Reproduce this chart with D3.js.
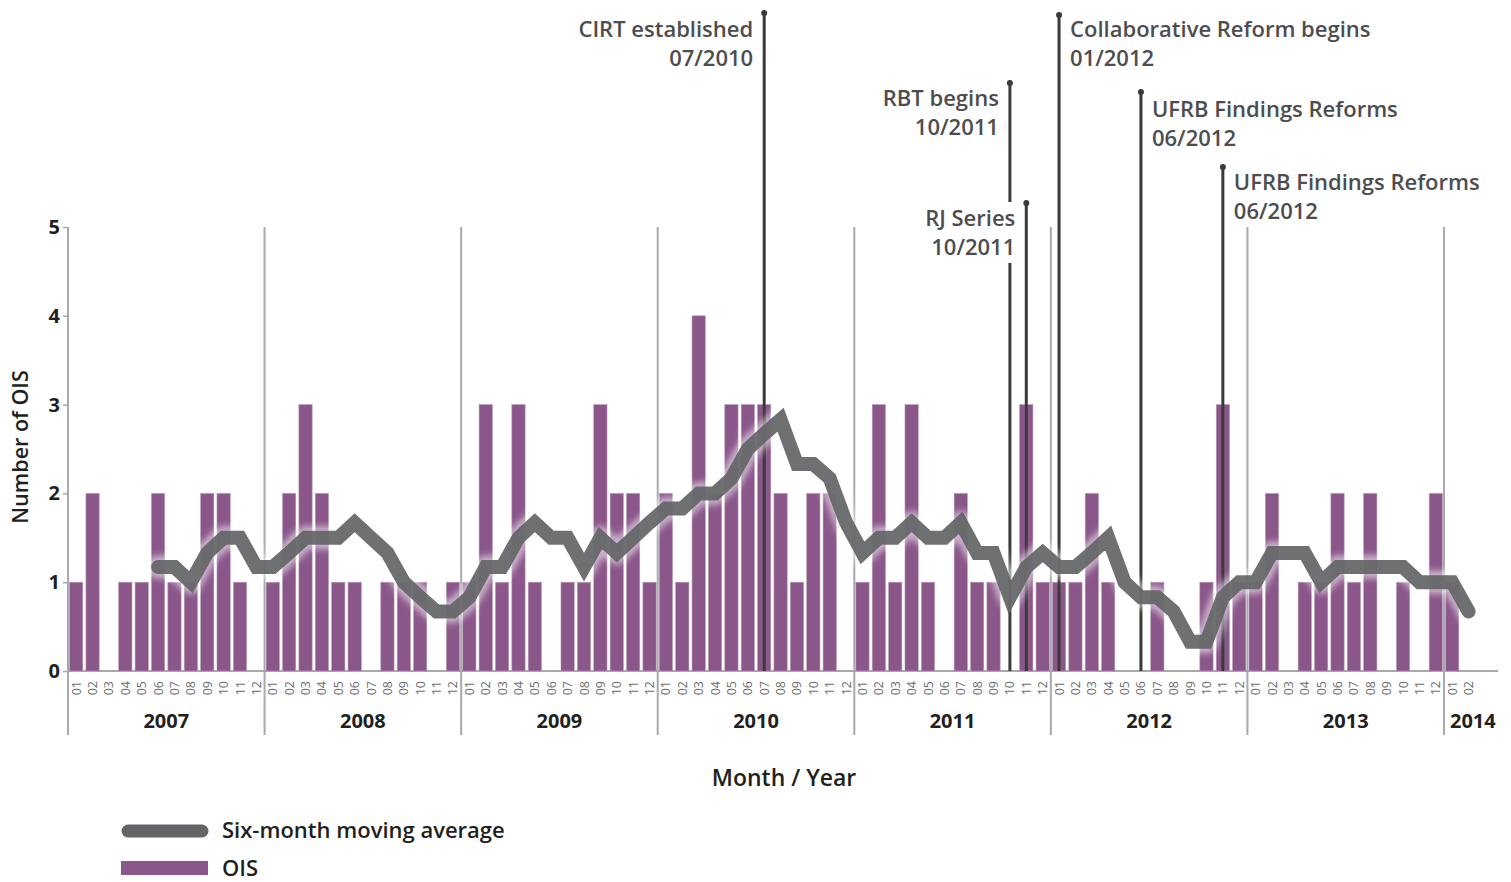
<!DOCTYPE html>
<html>
<head>
<meta charset="utf-8">
<script src="https://cdn.jsdelivr.net/npm/d3@7/dist/d3.min.js"></script>
<style>
  html, body { margin: 0; padding: 0; background: #ffffff; }
  svg { display: block; font-family: "Open Sans", "Noto Sans", sans-serif; }
</style>
</head>
<body>
<svg id="chart" width="1511" height="882"></svg>
<script>
// ---------------- DATA ----------------
const years = [2007, 2008, 2009, 2010, 2011, 2012, 2013, 2014];
const monthLabels = ["01","02","03","04","05","06","07","08","09","10","11","12"];

// Number of OIS per month (2007-01 .. 2014-02)
const ois2007 = [1, 2, 0, 1, 1, 2, 1, 1, 2, 2, 1, 0];
const ois2008 = [1, 2, 3, 2, 1, 1, 0, 1, 1, 1, 0, 1];
const ois2009 = [1, 3, 1, 3, 1, 0, 1, 1, 3, 2, 2, 1];
const ois2010 = [2, 1, 4, 2, 3, 3, 3, 2, 1, 2, 2, 0];
const ois2011 = [1, 3, 1, 3, 1, 0, 2, 1, 1, 0, 3, 1];
const ois2012 = [1, 1, 2, 1, 0, 0, 1, 0, 0, 1, 3, 1];
const ois2013 = [1, 2, 0, 1, 1, 2, 1, 2, 0, 1, 0, 2];
const ois2014 = [1, 0];

// Six-month moving average, first point at 2007-06
const maStart = "2007-06";
const movingAvg = [
  1.17, 1.17, 1.00, 1.33, 1.50, 1.50, 1.17,
  1.17, 1.33, 1.50, 1.50, 1.50, 1.67, 1.50, 1.33, 1.00, 0.83, 0.67, 0.67,
  0.83, 1.17, 1.17, 1.50, 1.67, 1.50, 1.50, 1.17, 1.50, 1.33, 1.50, 1.67,
  1.83, 1.83, 2.00, 2.00, 2.17, 2.50, 2.67, 2.83, 2.33, 2.33, 2.17, 1.67,
  1.33, 1.50, 1.50, 1.67, 1.50, 1.50, 1.67, 1.33, 1.33, 0.83, 1.17, 1.33,
  1.17, 1.17, 1.33, 1.50, 1.00, 0.83, 0.83, 0.67, 0.33, 0.33, 0.83, 1.00,
  1.00, 1.33, 1.33, 1.33, 1.00, 1.17, 1.17, 1.17, 1.17, 1.17, 1.00, 1.00,
  1.00, 0.67
];

const yTicks = [0, 1, 2, 3, 4, 5];

// Annotations (event markers)
const annoTitles = ["CIRT established", "RBT begins", "RJ Series", "Collaborative Reform begins", "UFRB Findings Reforms", "UFRB Findings Reforms"];
const annoDates  = ["07/2010", "10/2011", "10/2011", "01/2012", "06/2012", "06/2012"];
const annoMonths = ["2010-07", "2011-10", "2011-11", "2012-01", "2012-06", "2012-11"];

const legendLabels = ["Six-month moving average", "OIS"];
const axisTitleX = "Month / Year";
const axisTitleY = "Number of OIS";

// ---------------- LAYOUT ----------------
const annoLayout = [
  { top: 13,  side: "left",  textY: 29 },
  { top: 83,  side: "left",  textY: 98 },
  { top: 203, side: "left",  textY: 218, knockout: true },
  { top: 15,  side: "right", textY: 29 },
  { top: 92,  side: "right", textY: 109 },
  { top: 167, side: "right", textY: 182 }
];

const svg = d3.select("#chart");
const x0 = 68, monthStep = (1444 - 68) / 84;
const baseY = 671, topY = 227;

const oisAll = [ois2007, ois2008, ois2009, ois2010, ois2011, ois2012, ois2013, ois2014];
const rows = [];
years.forEach((yr, i) => {
  oisAll[i].forEach((v, m) => rows.push({ key: yr + "-" + monthLabels[m], year: yr, month: monthLabels[m], value: v }));
});
const keys = rows.map(d => d.key);

const x = d3.scaleBand().domain(keys)
  .range([x0, x0 + keys.length * monthStep])
  .paddingInner(0.19).paddingOuter(0.095);
const gapHalf = (x.step() - x.bandwidth()) / 2;
const cx = k => x(k) + x.bandwidth() / 2;

const y = d3.scaleLinear().domain([0, 5]).range([baseY, topY]);

const textDark = "#231f20";
const annoGrey = "#4d4d4f";
const purple = "#8b578b";
const lineGrey = "#636466";

// defs: glow
const defs = svg.append("defs");
const glow = defs.append("filter").attr("id", "glow").attr("x", "-5%").attr("y", "-20%").attr("width", "110%").attr("height", "140%");
glow.append("feGaussianBlur").attr("stdDeviation", 3);

// x baseline
svg.append("line").attr("x1", x0).attr("x2", 1498).attr("y1", baseY).attr("y2", baseY)
  .attr("stroke", "#a7a9ac").attr("stroke-width", 2);

// year separator lines
const yearStarts = years.map(yr => x(yr + "-01") - gapHalf);
svg.append("g").selectAll("line").data(yearStarts).join("line")
  .attr("x1", d => d).attr("x2", d => d).attr("y1", topY).attr("y2", 735)
  .attr("stroke", "#a7a9ac").attr("stroke-width", 2);

// y axis ticks
const yAxis = d3.axisLeft(y).tickValues(yTicks).tickFormat(d3.format("d")).tickSize(5).tickPadding(3);
const gy = svg.append("g").attr("transform", `translate(${x0},0)`).call(yAxis);
gy.select(".domain").remove();
gy.selectAll(".tick line").attr("stroke", "#a7a9ac").attr("stroke-width", 1.5);
gy.selectAll(".tick text").attr("fill", textDark).attr("font-size", 20).attr("font-weight", 700)
  .attr("font-family", "'Open Sans', sans-serif");

// bars
svg.append("g").selectAll("rect").data(rows.filter(d => d.value > 0)).join("rect")
  .attr("x", d => x(d.key)).attr("width", x.bandwidth())
  .attr("y", d => y(d.value)).attr("height", d => baseY - y(d.value))
  .attr("fill", purple).attr("stroke", "#b99cb8").attr("stroke-width", 0.6);

// month labels
svg.append("g").selectAll("text").data(rows).join("text")
  .attr("transform", d => `translate(${cx(d.key) + 4.5},${baseY + 10}) rotate(-90)`)
  .attr("text-anchor", "end")
  .attr("font-size", 12.5).attr("fill", "#6d6e71")
  .text(d => d.month);

// year labels
svg.append("g").selectAll("text").data(years).join("text")
  .attr("x", (yr, i) => yr === 2014 ? yearStarts[i] + 6 : yearStarts[i] + 6 * monthStep)
  .attr("y", 728)
  .attr("text-anchor", yr => yr === 2014 ? "start" : "middle")
  .attr("font-size", 20).attr("font-weight", 700).attr("fill", textDark)
  .text(d => d);

// axis titles
svg.append("text").attr("x", 784).attr("y", 786).attr("text-anchor", "middle")
  .attr("font-size", 23).attr("font-weight", 600).attr("fill", textDark).text(axisTitleX);
svg.append("text").attr("transform", "translate(28,447) rotate(-90)").attr("text-anchor", "middle")
  .attr("font-size", 21.5).attr("font-weight", 600).attr("fill", textDark).text(axisTitleY);

// annotation lines
const annoG = svg.append("g");
annoMonths.forEach((k, i) => {
  const L = annoLayout[i];
  const ax = cx(k);
  annoG.append("line").attr("x1", ax).attr("x2", ax).attr("y1", L.top).attr("y2", baseY)
    .attr("stroke", "#3a3a3c").attr("stroke-width", 3);
  annoG.append("circle").attr("cx", ax).attr("cy", L.top).attr("r", 3).attr("fill", "#3a3a3c");
});
annoMonths.forEach((k, i) => {
  const L = annoLayout[i];
  const ax = cx(k);
  const tx = L.side === "left" ? ax - 11 : ax + 11;
  const anchor = L.side === "left" ? "end" : "start";
  const t = annoG.append("text").attr("text-anchor", anchor).attr("font-size", 22).attr("font-weight", 600)
    .attr("fill", annoGrey);
  t.append("tspan").attr("x", tx).attr("y", L.textY + 8).text(annoTitles[i]);
  t.append("tspan").attr("x", tx).attr("y", L.textY + 37).text(annoDates[i]);
  if (L.knockout) {
    const bb = t.node().getBBox();
    annoG.insert("rect", () => t.node()).attr("x", bb.x - 3).attr("y", bb.y).attr("width", bb.width + 6).attr("height", bb.height + 2)
      .attr("fill", "#ffffff");
  }
});

// moving average
const startIdx = keys.indexOf(maStart);
const maPts = movingAvg.map((v, i) => ({ key: keys[startIdx + i], value: v }));
const line = d3.line().x(d => cx(d.key)).y(d => y(d.value));
svg.append("path").datum(maPts).attr("d", line).attr("fill", "none")
  .attr("stroke", "#ffffff").attr("stroke-opacity", 0.55).attr("stroke-width", 23)
  .attr("stroke-linejoin", "round").attr("stroke-linecap", "round").attr("filter", "url(#glow)");
svg.append("path").datum(maPts).attr("d", line).attr("fill", "none")
  .attr("stroke", lineGrey).attr("stroke-opacity", 0.92).attr("stroke-width", 14)
  .attr("stroke-linejoin", "miter").attr("stroke-linecap", "round");

// legend
svg.append("line").attr("x1", 128).attr("x2", 202).attr("y1", 831).attr("y2", 831)
  .attr("stroke", lineGrey).attr("stroke-width", 13).attr("stroke-linecap", "round");
svg.append("rect").attr("x", 121).attr("y", 861).attr("width", 87).attr("height", 14).attr("fill", purple);
svg.append("text").attr("x", 222).attr("y", 838).attr("font-size", 22).attr("font-weight", 600).attr("fill", textDark).text(legendLabels[0]);
svg.append("text").attr("x", 222).attr("y", 876).attr("font-size", 22).attr("font-weight", 600).attr("fill", textDark).text(legendLabels[1]);
</script>
</body>
</html>
